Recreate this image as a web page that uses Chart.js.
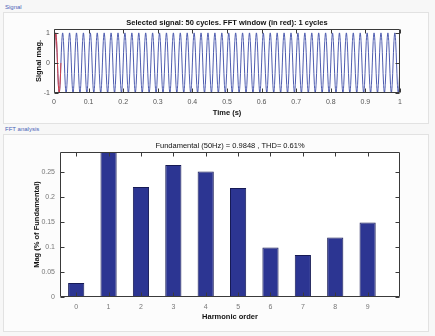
<!DOCTYPE html>
<html><head><meta charset="utf-8">
<script src="https://cdn.jsdelivr.net/npm/chart.js@4"></script>
<style>
html,body{margin:0;padding:0;width:435px;height:336px;overflow:hidden;background:#f7f7f7;font-family:"Liberation Sans",Arial,sans-serif;}
.panel{position:absolute;border:1px solid #e2e2e2;background:#fcfcfc;}
.plabel{position:absolute;font-size:6px;line-height:7px;color:#4a62b8;background:#f7f7f7;padding:0 1px;}
canvas{position:absolute;left:0;top:0;}
</style></head><body>
<div class="panel" style="left:3px;top:12px;width:424px;height:110px"></div>
<div class="plabel" style="left:4px;top:4px">Signal</div>
<div class="panel" style="left:3px;top:134px;width:424px;height:196px"></div>
<div class="plabel" style="left:4px;top:126px">FFT analysis</div>
<canvas id="sig" width="435" height="336"></canvas>
<canvas id="fft" width="435" height="336"></canvas>
<script>
// ---- data ----
const signalCycles = 50;                 // cycles shown in 1 s
const signalDuration = 1;                // seconds
const fftWindowCycles = 1;               // cycles in red
const cycleShape = [0, 0.71, 1, 0.71, 0, -0.71, -1, -0.71]; // one cycle of the sine, 8 samples
const timeTicks = [0, 0.1, 0.2, 0.3, 0.4, 0.5, 0.6, 0.7, 0.8, 0.9, 1];
const signalTicks = [-1, 0, 1];

const harmonicOrders = [0, 1, 2, 3, 4, 5, 6, 7, 8, 9];
const harmonicMags = [0.028, 0.29, 0.22, 0.264, 0.251, 0.218, 0.099, 0.084, 0.119, 0.149];
const magTicks = [0, 0.05, 0.1, 0.15, 0.2, 0.25];

const sigTitle = 'Selected signal: 50 cycles. FFT window (in red): 1 cycles';
const fftTitle = 'Fundamental (50Hz) = 0.9848 , THD= 0.61%';

// ---- build series ----
const period = signalDuration / signalCycles;
const signalPts = [];
for (let c = 0; c < signalCycles; c++) {
  cycleShape.forEach((v, k) => signalPts.push({x: (c + k / cycleShape.length) * period, y: v}));
}
signalPts.push({x: signalDuration, y: cycleShape[0]});
const windowPts = signalPts.filter(p => p.x <= fftWindowCycles * period + 1e-9);

const FONT = '"Liberation Sans",Arial,sans-serif';

const framePlugin = {
  id: 'frame',
  beforeDraw(chart) {
    const {ctx, chartArea: a} = chart;
    ctx.save(); ctx.fillStyle = '#ffffff';
    ctx.fillRect(a.left, a.top, a.right - a.left, a.bottom - a.top);
    ctx.restore();
  },
  afterDatasetsDraw(chart) {
    const {ctx, chartArea: a, scales: {x, y}} = chart;
    ctx.save();
    ctx.strokeStyle = '#3a3a3a'; ctx.lineWidth = 1;
    const L = Math.round(a.left) + 0.5, R = Math.round(a.right) - 0.5,
          T = Math.round(a.top) + 0.5, B = Math.round(a.bottom) - 0.5;
    ctx.beginPath();
    ctx.rect(L, T, R - L, B - T);
    const tl = 4;
    x.ticks.forEach(t => {
      const px = Math.round(x.getPixelForValue(t.value)) + 0.5;
      ctx.moveTo(px, B); ctx.lineTo(px, B - tl);
      ctx.moveTo(px, T); ctx.lineTo(px, T + tl);
    });
    y.ticks.forEach(t => {
      const py = Math.round(y.getPixelForValue(t.value)) + 0.5;
      ctx.moveTo(L, py); ctx.lineTo(L + tl, py);
      ctx.moveTo(R, py); ctx.lineTo(R - tl, py);
    });
    ctx.stroke();
    ctx.restore();
  }
};

const tickFont = {family: FONT, size: 7, weight: 'normal'};
const labFont = {family: FONT, size: 7.5, weight: 'bold'};
const fmt = v => String(v);

new Chart(document.getElementById('sig'), {
  type: 'line',
  data: {datasets: [
    {data: windowPts, borderColor: '#e23a3a', borderWidth: 0.9, pointRadius: 0, tension: 0.35, order: 1},
    {data: signalPts, borderColor: '#3a4aa6', borderWidth: 0.9, pointRadius: 0, tension: 0.35, order: 2}
  ]},
  options: {
    responsive: false, animation: false, devicePixelRatio: 1,
    layout: {padding: {left: 34.5, right: 35, top: 0, bottom: 219}},
    plugins: {
      legend: {display: false}, tooltip: {enabled: false},
      title: {display: true, fullSize: false, text: sigTitle, color: '#111',
        font: {family: FONT, size: 7.5, weight: 'bold'}, padding: {top: 18.5, bottom: 1.5}}
    },
    scales: {
      x: {type: 'linear', min: 0, max: signalDuration,
        afterBuildTicks: s => { s.ticks = timeTicks.map(v => ({value: v})); },
        afterFit: s => { s.height = 24; },
        ticks: {font: tickFont, color: '#555', padding: 5, maxRotation: 0, autoSkip: false, callback: fmt},
        grid: {display: false, drawTicks: false}, border: {display: false},
        title: {display: true, text: 'Time (s)', color: '#111', font: labFont, padding: 0}},
      y: {type: 'linear', min: -1, max: 1.13,
        afterBuildTicks: s => { s.ticks = signalTicks.map(v => ({value: v})); },
        afterFit: s => { s.width = 19.5; },
        ticks: {font: tickFont, color: '#555', padding: 4, callback: fmt},
        grid: {display: false, drawTicks: false}, border: {display: false},
        title: {display: true, text: 'Signal mag.', color: '#111', font: labFont, padding: 0}}
    }
  },
  plugins: [framePlugin]
});

new Chart(document.getElementById('fft'), {
  type: 'bar',
  data: {datasets: [{
    data: harmonicOrders.map((h, i) => ({x: h, y: harmonicMags[i]})),
    backgroundColor: '#2c3592', borderColor: '#161a55', borderWidth: 1,
    categoryPercentage: 1, barPercentage: 0.5
  }]},
  options: {
    responsive: false, animation: false, devicePixelRatio: 1,
    layout: {padding: {left: 32.5, right: 35, top: 0, bottom: 14.5}},
    plugins: {
      legend: {display: false}, tooltip: {enabled: false},
      title: {display: true, fullSize: false, text: fftTitle, color: '#111',
        font: {family: FONT, size: 7.5, weight: 'normal'}, padding: {top: 141.5, bottom: 1.5}}
    },
    scales: {
      x: {type: 'linear', min: -0.5, max: 10, offset: false,
        afterBuildTicks: s => { s.ticks = harmonicOrders.map(v => ({value: v})); },
        afterFit: s => { s.height = 24.5; },
        ticks: {font: tickFont, color: '#777', padding: 6, maxRotation: 0, autoSkip: false, callback: fmt},
        grid: {display: false, drawTicks: false}, border: {display: false},
        title: {display: true, text: 'Harmonic order', color: '#111', font: labFont, padding: 0}},
      y: {type: 'linear', min: 0, max: 0.29,
        afterBuildTicks: s => { s.ticks = magTicks.map(v => ({value: v})); },
        afterFit: s => { s.width = 27.5; },
        ticks: {font: tickFont, color: '#777', padding: 5, callback: fmt},
        grid: {display: false, drawTicks: false}, border: {display: false},
        title: {display: true, text: 'Mag (% of Fundamental)', color: '#111', font: labFont, padding: 0}}
    }
  },
  plugins: [framePlugin]
});
</script>
</body></html>
